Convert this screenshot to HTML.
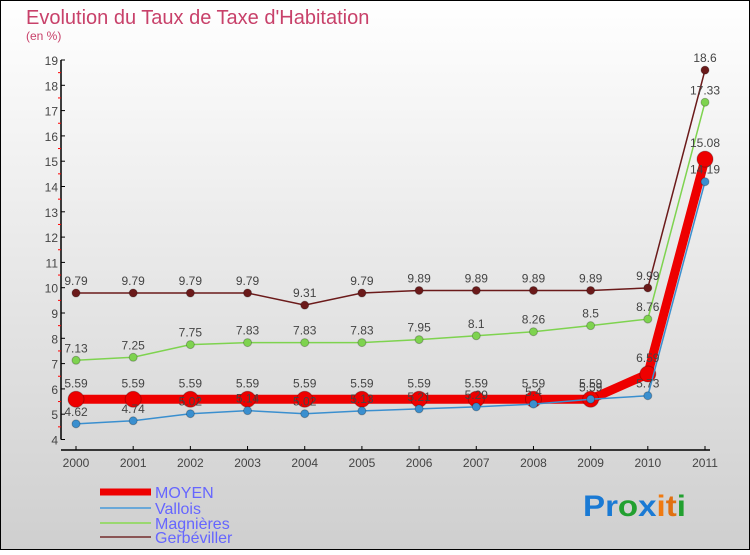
<!DOCTYPE html>
<html><head><meta charset="utf-8"><style>
body{margin:0;}
#c{width:750px;height:550px;position:relative;font-family:"Liberation Sans",sans-serif;}
</style></head><body>
<div id="c">
<svg id="s" width="750" height="550" xmlns="http://www.w3.org/2000/svg">
<defs><linearGradient id="bg" x1="0" y1="0" x2="0" y2="1"><stop offset="0" stop-color="#ffffff"/><stop offset="1" stop-color="#cfcfcf"/></linearGradient></defs>
<rect x="0.5" y="0.5" width="749" height="549" fill="url(#bg)" stroke="#000"/>
<text x="26" y="24" font-size="20" fill="#c8416a">Evolution du Taux de Taxe d'Habitation</text>
<text x="26" y="40" font-size="12" fill="#c8416a">(en %)</text>
<g id="axes"></g><g id="series"></g><g id="labels"></g><g id="legend"></g>
<text x="583" y="516" font-size="30" font-weight="bold" textLength="103" lengthAdjust="spacingAndGlyphs"><tspan fill="#1a7ad4">Pr</tspan><tspan fill="#22a030">o</tspan><tspan fill="#1a7ad4">x</tspan><tspan fill="#f07a10">i</tspan><tspan fill="#e07010">t</tspan><tspan fill="#22a030">i</tspan></text>
</svg></div>
<script>
const years=["2000","2001","2002","2003","2004","2005","2006","2007","2008","2009","2010","2011"];
const moyen=[5.59,5.59,5.59,5.59,5.59,5.59,5.59,5.59,5.59,5.59,6.59,15.08];
const vallois=[4.62,4.74,5.02,5.14,5.02,5.13,5.21,5.29,5.4,5.59,5.73,14.19];
const magnieres=[7.13,7.25,7.75,7.83,7.83,7.83,7.95,8.1,8.26,8.5,8.76,17.33];
const gerbeviller=[9.79,9.79,9.79,9.79,9.31,9.79,9.89,9.89,9.89,9.89,9.99,18.6];
const yTicks=[4,5,6,7,8,9,10,11,12,13,14,15,16,17,18,19];
const NS="http://www.w3.org/2000/svg";
function X(i){return 76+i*(705-76)/(years.length-1);}
function Y(v){return 439.5-(v-4)*(379.5/15);}
function mk(tag,attrs,parent){const e=document.createElementNS(NS,tag);for(const k in attrs)e.setAttribute(k,attrs[k]);parent.appendChild(e);return e;}
const axes=document.getElementById('axes');
let yl=mk('line',{x1:61,y1:Y(19),x2:61,y2:Y(4),stroke:'#000','stroke-width':1.5},axes);


let xl=mk('line',{x1:61,y1:450,x2:710,y2:450,stroke:'#000','stroke-width':1.5},axes);


yTicks.forEach(v=>{
 mk('line',{x1:61,y1:Y(v),x2:65,y2:Y(v),stroke:'#000'},axes);
 if(v<19)mk('line',{x1:58,y1:Y(v+0.5),x2:61,y2:Y(v+0.5),stroke:'#f00'},axes);
 const t=mk('text',{x:58,y:Y(v)+5,'font-size':12,fill:'#444','text-anchor':'end'},axes);
 t.textContent=v;
 
 
});
years.forEach((y,i)=>{
 mk('line',{x1:X(i),y1:446,x2:X(i),y2:450,stroke:'#000'},axes);
 const t=mk('text',{x:X(i),y:467,'font-size':12,fill:'#444','text-anchor':'middle'},axes);
 t.textContent=y;
 
 
});
const S=document.getElementById('series');
const LB=document.getElementById('labels');
function series(vals,color,w,r,name){
 const g=mk('g',{},S);
 
 
 const pl=mk('polyline',{points:vals.map((v,i)=>X(i)+','+Y(v)).join(' '),fill:'none',stroke:color,'stroke-width':w},g);
 
 
 vals.forEach((v,i)=>{
  const c=mk('circle',{cx:X(i),cy:Y(v),r:r,fill:color,stroke:'rgba(0,0,0,0.25)','stroke-width':1},g);
  
  
  const t=mk('text',{x:X(i),y:Y(v)-8-(r>5?4:0),'font-size':12,fill:'#444','text-anchor':'middle'},LB);
  t.textContent=v;
  
  
 });
}
series(gerbeviller,'#6b1a1a',1.5,4,'gerbeviller');
series(magnieres,'#7ed34f',1.5,4,'magnieres');
series(moyen,'#ee0000',9,8,'moyen');
series(vallois,'#3a8fcf',1.5,4,'vallois');
const L=document.getElementById('legend');
[['MOYEN','#ee0000',7,492],['Vallois','#6aa8d8',2,508],['Magnières','#9ad870',2,523],['Gerbéviller','#8a5555',2,537]].forEach(([n,c,w,y])=>{
 const g=mk('g',{},L);
 
 
 mk('line',{x1:100,y1:y,x2:151,y2:y,stroke:c,'stroke-width':w},g);
 const t=mk('text',{x:155,y:y+6,'font-size':16,fill:'#6666ff'},g);
 t.textContent=n;
});
</script>
</body></html>
